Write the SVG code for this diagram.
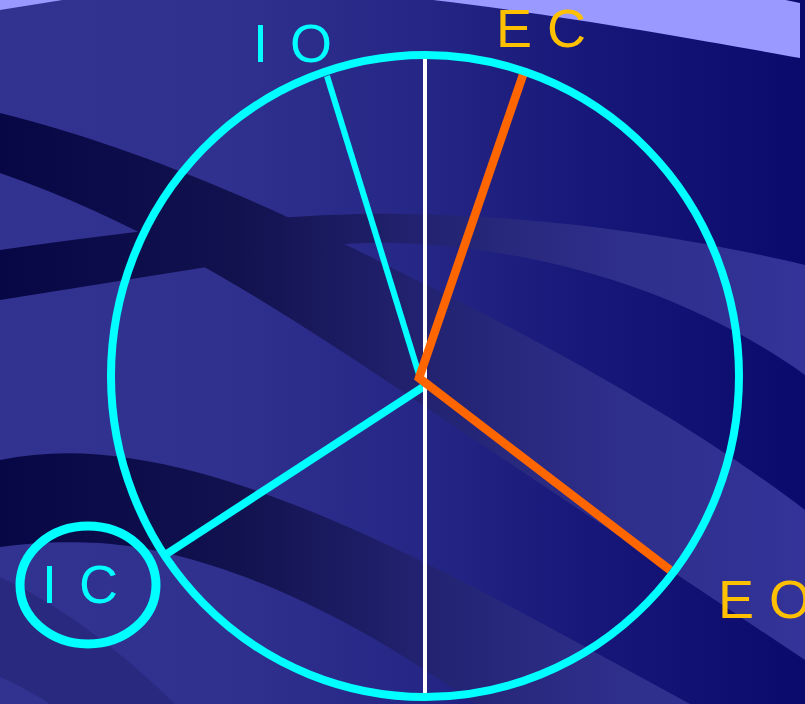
<svg xmlns="http://www.w3.org/2000/svg" width="805" height="704" viewBox="0 0 805 704">
<defs>
<linearGradient id="bg" gradientUnits="userSpaceOnUse" x1="0" y1="0" x2="805" y2="0">
<stop offset="0" stop-color="#323291"/>
<stop offset="0.28" stop-color="#30308f"/>
<stop offset="0.52" stop-color="#262686"/>
<stop offset="0.72" stop-color="#18187a"/>
<stop offset="1" stop-color="#0a0a6c"/>
</linearGradient>
<linearGradient id="band" gradientUnits="userSpaceOnUse" x1="0" y1="0" x2="805" y2="0">
<stop offset="0" stop-color="#070746"/>
<stop offset="0.3" stop-color="#12124f"/>
<stop offset="0.52" stop-color="#222270"/>
<stop offset="0.75" stop-color="#2e2e8a"/>
<stop offset="1" stop-color="#333399"/>
</linearGradient>
</defs>
<style>
.band{fill:url(#band)}
.lbl{font-family:"Liberation Sans",Arial,sans-serif;font-size:54px}
.cy{fill:#00ffff}
.yl{fill:#ffc000}
.ring{fill:none;stroke:#00ffff}
.spoke-c{fill:none;stroke:#00ffff}
.spoke-o{fill:none;stroke:#ff6600;stroke-linejoin:miter}
</style>
<g id="background">
<rect x="0" y="0" width="805" height="704" fill="url(#bg)"/>
<path d="M0,10 L75,-2 C200,-20 330,-14 433,0 C560,15 700,40 800,58 L800,3 L400,-80 L0,-80 Z" fill="#9999ff"/>
<path class="band" d="M0,250 C150,228 300,212 400,214 C560,216 700,240 805,265 L805,375 C700,300 560,250 400,243 C320,240 260,258 207,267 L0,300 Z"/>
<path class="band" d="M0,113 C150,150 300,220 400,272 C560,350 700,430 805,510 L805,660 C700,590 550,490 400,390 C280,310 150,225 0,173 Z"/>
<path class="band" d="M0,460 C60,448 120,452 200,473 C350,515 500,600 690,704 L475,704 C330,600 200,550 100,543 C60,541 30,543 0,547 Z"/>
<path d="M0,577 C60,605 120,650 175,704 L50,704 C35,694 20,686 0,677 Z" fill="#29297f"/>
</g>
<g id="connectors">
<line class="spoke-c" x1="327" y1="76" x2="421" y2="381" stroke-width="6"/>
<line class="spoke-c" x1="165" y1="555" x2="423" y2="387" stroke-width="8"/>
<line x1="425" y1="59" x2="425" y2="694" stroke="#ffffff" stroke-width="4"/>
<polyline class="spoke-o" points="524,72 419,378 670,570" stroke-width="8.5"/>
</g>
<g id="main-circle">
<ellipse class="ring" cx="425" cy="376" rx="314" ry="321" stroke-width="8"/>
</g>
<g id="node-IO">
<text class="lbl cy" x="253" y="62">I <tspan dx="7">O</tspan></text>
</g>
<g id="node-EC">
<text class="lbl yl" x="496" y="47">E C</text>
</g>
<g id="node-IC">
<ellipse class="ring" cx="88" cy="585" rx="68" ry="59" stroke-width="9"/>
<text class="lbl cy" x="42" y="603">I <tspan dx="7">C</tspan></text>
</g>
<g id="node-EO">
<text class="lbl yl" x="718" y="618">E O</text>
</g>
</svg>
